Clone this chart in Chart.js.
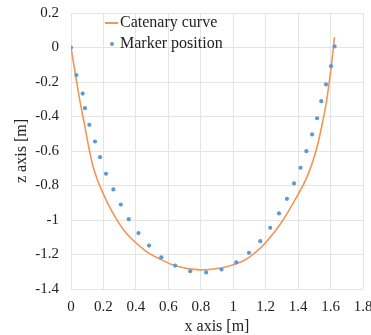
<!DOCTYPE html>
<html>
<head>
<meta charset="utf-8">
<script src="https://cdn.jsdelivr.net/npm/chart.js@4"></script>
<style>
html,body{margin:0;padding:0;background:#fff;}
#wrap{width:371px;height:335px;}
</style>
</head>
<body>
<div id="wrap"><canvas id="c" width="371" height="335"></canvas></div>
<script>
// Catenary curve
const curveX = [0, 0.028, 0.056, 0.086, 0.112, 0.142, 0.19, 0.261, 0.344, 0.457, 0.545, 0.652, 0.796, 0.94, 1.043, 1.10, 1.17, 1.228, 1.30, 1.38, 1.455, 1.51, 1.545, 1.572, 1.592, 1.608, 1.624];
const curveZ = [0, -0.16, -0.315, -0.46, -0.59, -0.71, -0.83, -0.964, -1.08, -1.177, -1.225, -1.268, -1.289, -1.275, -1.245, -1.215, -1.16, -1.1, -1.01, -0.885, -0.75, -0.6, -0.46, -0.33, -0.2, -0.08, 0.06];
// Marker positions
const markerX = [0, 0.033, 0.072, 0.086, 0.113, 0.148, 0.179, 0.216, 0.261, 0.307, 0.356, 0.416, 0.481, 0.557, 0.642, 0.735, 0.833, 0.928, 1.019, 1.097, 1.167, 1.228, 1.282, 1.331, 1.375, 1.415, 1.451, 1.486, 1.517, 1.543, 1.572, 1.603, 1.625];
const markerZ = [0, -0.16, -0.267, -0.352, -0.448, -0.545, -0.636, -0.732, -0.823, -0.91, -0.995, -1.076, -1.148, -1.216, -1.264, -1.297, -1.304, -1.287, -1.246, -1.19, -1.123, -1.045, -0.962, -0.877, -0.788, -0.697, -0.601, -0.504, -0.41, -0.311, -0.214, -0.108, 0.006];
const seriesLabels = ["Catenary curve", "Marker position"];
const xTitle = "x axis [m]";
const yTitle = "z axis [m]";

const lineColor = '#F19656';
const pointColor = '#5B9BD5';
const fontFam = "'Liberation Serif', 'DejaVu Serif', 'Times New Roman', serif";

const curveData = curveX.map((x, i) => ({x: x, y: curveZ[i]}));
const markerData = markerX.map((x, i) => ({x: x, y: markerZ[i]}));

const legendPlugin = {
  id: 'innerLegend',
  afterDraw(chart) {
    const ctx = chart.ctx;
    const a = chart.chartArea;
    ctx.save();
    ctx.font = '16px ' + fontFam;
    ctx.fillStyle = '#222';
    ctx.textBaseline = 'middle';
    ctx.textAlign = 'left';
    ctx.strokeStyle = lineColor;
    ctx.lineWidth = 2;
    ctx.beginPath();
    ctx.moveTo(a.left + 34, a.top + 10);
    ctx.lineTo(a.left + 47, a.top + 10);
    ctx.stroke();
    ctx.fillText(chart.data.datasets[0].label, a.left + 49, a.top + 10);
    ctx.fillStyle = pointColor;
    ctx.beginPath();
    ctx.arc(a.left + 41, a.top + 31, 2, 0, Math.PI * 2);
    ctx.fill();
    ctx.fillStyle = '#222';
    ctx.fillText(chart.data.datasets[1].label, a.left + 49, a.top + 31);
    ctx.restore();
  }
};

function draw() {
  Chart.defaults.font.family = fontFam;
  new Chart(document.getElementById('c'), {
    type: 'scatter',
    data: {
      datasets: [
        {
          label: seriesLabels[0],
          data: curveData,
          showLine: true,
          borderColor: lineColor,
          borderWidth: 1.6,
          pointRadius: 0,
          tension: 0.35,
          order: 2
        },
        {
          label: seriesLabels[1],
          data: markerData,
          showLine: false,
          pointRadius: 2.1,
          pointBackgroundColor: pointColor,
          pointBorderWidth: 0,
          order: 1
        }
      ]
    },
    options: {
      responsive: false,
      animation: false,
      layout: {padding: {top: 13, right: 8, left: 0, bottom: 0}},
      plugins: {legend: {display: false}, tooltip: {enabled: false}},
      scales: {
        x: {
          type: 'linear',
          min: 0, max: 1.8,
          ticks: {stepSize: 0.2, color: '#222', font: {family: fontFam, size: 15}, padding: 9,
            callback: v => Number(v.toFixed(1)).toString()},
          grid: {color: '#e4e4e4', drawTicks: false, lineWidth: 1},
          border: {display: false},
          title: {display: true, text: xTitle, color: '#222', font: {family: fontFam, size: 16, lineHeight: 1}, padding: {top: 0, bottom: 0}},
          afterFit(s) { s.height = 46; s.paddingLeft = 0; s.paddingRight = 0; }
        },
        y: {
          type: 'linear',
          min: -1.4, max: 0.2,
          ticks: {stepSize: 0.2, color: '#222', font: {family: fontFam, size: 15}, padding: 12,
            callback: v => Number(v.toFixed(1)).toString()},
          grid: {color: '#e4e4e4', drawTicks: false, lineWidth: 1},
          border: {display: false},
          title: {display: true, text: yTitle, color: '#222', font: {family: fontFam, size: 16, lineHeight: 1.2}, padding: {top: 12, bottom: 0}},
          afterFit(s) { s.width = 71; s.paddingTop = 0; s.paddingBottom = 0; }
        }
      }
    },
    plugins: [legendPlugin]
  });
}

if (document.fonts && document.fonts.load) {
  Promise.all([
    document.fonts.load("15px 'Liberation Serif'"),
    document.fonts.load("16px 'Liberation Serif'")
  ]).then(draw, draw);
} else {
  draw();
}
</script>
</body>
</html>
